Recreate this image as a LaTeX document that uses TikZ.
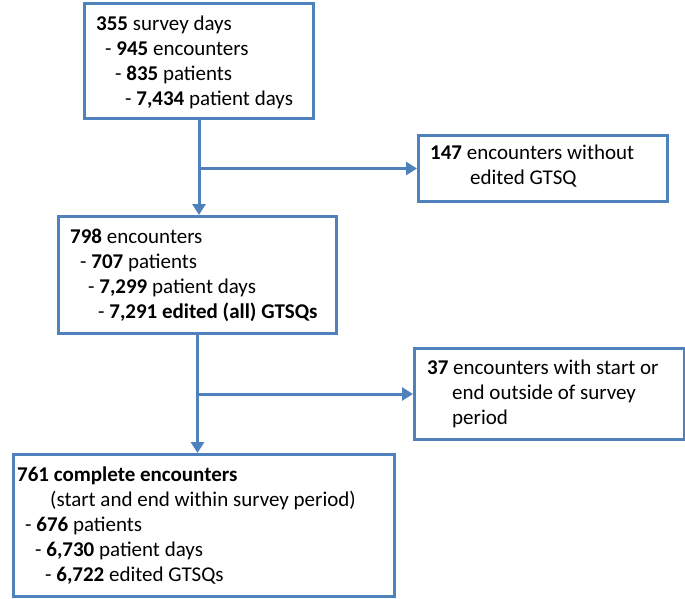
\documentclass[tikz,border=0pt]{standalone}
\usepackage{fontspec}
\setmainfont{Carlito}
\usetikzlibrary{arrows.meta,calc}
\definecolor{flowblue}{RGB}{79,129,189}
\tikzset{
  box/.style={draw=flowblue, line width=3pt, fill=white, anchor=north west, inner sep=0pt},
  txt/.style={anchor=west, align=left, inner sep=0pt, font=\fontsize{21}{25}\selectfont, text=black},
  flow/.style={draw=flowblue, line width=3pt},
  arr/.style={flow, -{Triangle[length=11pt,width=13pt]}}
}
\begin{document}
\begin{tikzpicture}[x=1pt,y=-1pt]
\useasboundingbox (0,0) rectangle (685,598);
% boxes
\node[box, minimum width=229pt, minimum height=115pt] (b1) at (83,2) {};
\node[box, minimum width=249pt, minimum height=66pt] (b2) at (417,134) {};
\node[box, minimum width=278pt, minimum height=117pt] (b3) at (57,215) {};
\node[box, minimum width=270pt, minimum height=91pt] (b4) at (413,347) {};
\node[box, minimum width=381pt, minimum height=142pt] (b5) at (12,453) {};
% texts
\node[txt] (t1) at ([xshift=13pt,yshift=-1pt]b1.west) {\textbf{355} survey days\\
\hspace*{9pt}- \textbf{945} encounters\\
\hspace*{19pt}- \textbf{835} patients\\
\hspace*{29pt}- \textbf{7,434} patient days};
\node[txt] (t2) at ([xshift=13pt,yshift=2pt]b2.west) {\textbf{147} encounters without\\
\hspace*{40pt}edited GTSQ};
\node[txt] (t3) at ([xshift=13pt]b3.west) {\textbf{798} encounters\\
\hspace*{10pt}- \textbf{707} patients\\
\hspace*{18pt}- \textbf{7,299} patient days\\
\hspace*{28pt}- \textbf{7,291 edited (all) GTSQs}};
\node[txt] (t4) at ([xshift=14pt]b4.west) {\textbf{37} encounters with start or\\
\hspace*{25pt}end outside of survey\\
\hspace*{25pt}period};
\node[txt] (t5) at ([xshift=5pt]b5.west) {\textbf{761 complete encounters}\\
\hspace*{33pt}(start and end within survey period)\\
\hspace*{8pt}- \textbf{676} patients\\
\hspace*{18pt}- \textbf{6,730} patient days\\
\hspace*{28pt}- \textbf{6,722} edited GTSQs};
% connectors
\coordinate (j1) at (b1.south |- b2.west);
\coordinate (j2) at (b3.south |- b4.west);
\draw[arr] (b1.south) -- (b1.south |- b3.north);
\draw[arr] (j1) -- (b2.west);
\draw[arr] (b3.south) -- (b3.south |- b5.north);
\draw[arr] (j2) -- (b4.west);
\end{tikzpicture}
\end{document}
